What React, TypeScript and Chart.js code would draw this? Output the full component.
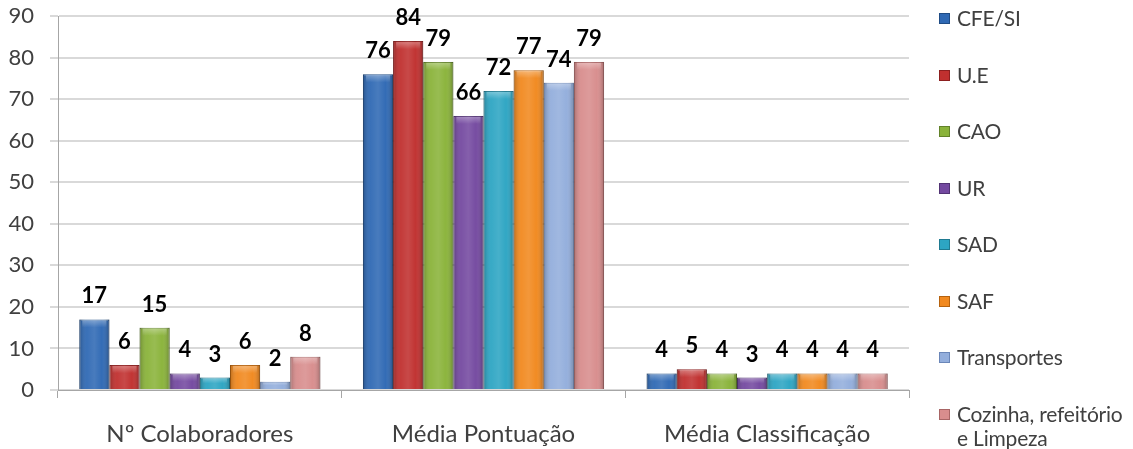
import React, { useEffect, useRef } from "react";
import { Chart, registerables } from "chart.js";

Chart.register(...registerables);

const categories = ["Nº Colaboradores", "Média Pontuação", "Média Classificação"];
const seriesNames = ["CFE/SI", "U.E", "CAO", "UR", "SAD", "SAF", "Transportes", "Cozinha, refeitório e Limpeza"];
const legendLines = [["CFE/SI"], ["U.E"], ["CAO"], ["UR"], ["SAD"], ["SAF"], ["Transportes"], ["Cozinha, refeitório", "e Limpeza"]];
const cfeSi = [17, 76, 4];
const ue = [6, 84, 5];
const cao = [15, 79, 4];
const ur = [4, 66, 3];
const sad = [3, 72, 4];
const saf = [6, 77, 4];
const transportes = [2, 74, 4];
const cozinha = [8, 79, 4];
const seriesValues = [cfeSi, ue, cao, ur, sad, saf, transportes, cozinha];
const colors = ["#2F69B4", "#C0302F", "#8AB33A", "#7449A0", "#2DA5C3", "#F1891F", "#93AEDC", "#D88D8D"];
const borders = ["#1F4C85", "#8C1F1F", "#62822A", "#523374", "#1F7A91", "#B5620F", "#6A86B8", "#A86565"];
const yTicks = [0, 10, 20, 30, 40, 50, 60, 70, 80, 90];

const FONT = "Lato, 'Open Sans', 'DejaVu Sans', sans-serif";
const SHIFT = 13;

const barPlugin = {
  id: "barDecor",
  afterDatasetsDraw(chart: any) {
    const ctx = chart.ctx as CanvasRenderingContext2D;
    chart.data.datasets.forEach((ds: any, di: number) => {
      const meta = chart.getDatasetMeta(di);
      meta.data.forEach((el: any, i: number) => {
        const { x, y, base, width } = el.getProps(["x", "y", "base", "width"], true);
        const left = x - width / 2;
        const h = base - y;
        ctx.save();
        const g = ctx.createLinearGradient(left, 0, left + width, 0);
        g.addColorStop(0, "rgba(0,0,0,0.22)");
        g.addColorStop(0.25, "rgba(255,255,255,0.05)");
        g.addColorStop(0.5, "rgba(255,255,255,0.12)");
        g.addColorStop(0.75, "rgba(255,255,255,0.02)");
        g.addColorStop(1, "rgba(0,0,0,0.25)");
        ctx.fillStyle = g;
        ctx.fillRect(left, y, width, h);
        const th = Math.min(8, h / 2);
        const tg = ctx.createLinearGradient(0, y, 0, y + th);
        tg.addColorStop(0, "rgba(255,255,255,0.35)");
        tg.addColorStop(1, "rgba(255,255,255,0)");
        ctx.fillStyle = tg;
        ctx.fillRect(left + 3, y + 1, width - 6, th);
        ctx.restore();
        ctx.save();
        ctx.fillStyle = "#000";
        ctx.font = `bold 22px ${FONT}`;
        ctx.textAlign = "center";
        ctx.textBaseline = "middle";
        ctx.fillText(String(ds.data[i]), x, y - 23);
        ctx.restore();
      });
    });
  },
};

export default function App() {
  const ref = useRef<HTMLCanvasElement>(null);
  useEffect(() => {
    document.body.style.margin = "0";
    const chart = new Chart(ref.current!, {
      type: "bar",
      data: {
        labels: categories,
        datasets: seriesNames.map((n, i) => ({
          label: n,
          data: seriesValues[i],
          backgroundColor: colors[i],
          borderColor: borders[i],
          borderWidth: 1,
          categoryPercentage: 0.85,
          barPercentage: 1,
        })),
      },
      options: {
        animation: false,
        responsive: false,
        maintainAspectRatio: false,
        layout: { padding: { top: 4, right: 224, bottom: 2, left: 0 } },
        plugins: { legend: { display: false }, tooltip: { enabled: false } },
        scales: {
          x: {
            grid: { display: true, drawOnChartArea: false, offset: true, tickLength: 8, color: "#a6a6a6" },
            border: { color: "#a6a6a6" },
            ticks: { color: "#404040", font: { family: FONT, size: 24 }, padding: 22 },
            afterFit: (axis: any) => {
              axis.height = 57;
            },
          },
          y: {
            min: 0,
            max: 90,
            afterBuildTicks: (axis: any) => {
              axis.ticks = yTicks.map((v) => ({ value: v }));
            },
            afterFit: (axis: any) => {
              axis.width = 58;
            },
            grid: { color: "#d9d9d9", lineWidth: 2, tickLength: 8 },
            border: { color: "#a6a6a6" },
            ticks: { color: "#404040", font: { family: FONT, size: 22 }, padding: 16 },
          },
        },
      },
      plugins: [barPlugin],
    });
    return () => chart.destroy();
  }, []);

  return (
    <div style={{ position: "fixed", left: 0, top: 0, width: 1133, height: 449, background: "#fff", overflow: "hidden" }}>
      <canvas ref={ref} width={1133} height={449 + SHIFT} style={{ position: "absolute", left: 0, top: -SHIFT }} />
      {legendLines.map((lines, i) => (
        <div
          key={i}
          style={{
            position: "absolute",
            left: 939,
            top: 18 + i * 56.5 - 12,
            fontFamily: FONT,
            fontSize: 21,
            lineHeight: "24px",
            color: "#404040",
            whiteSpace: "nowrap",
            letterSpacing: "-0.2px",
          }}
        >
          <span
            style={{
              position: "absolute",
              left: 0,
              top: 7,
              width: 11,
              height: 11,
              background: colors[i],
              border: `1px solid ${borders[i]}`,
              boxSizing: "border-box",
            }}
          />
          <div style={{ marginLeft: 18 }}>
            {lines.map((l, j) => (
              <div key={j}>{l}</div>
            ))}
          </div>
        </div>
      ))}
    </div>
  );
}
